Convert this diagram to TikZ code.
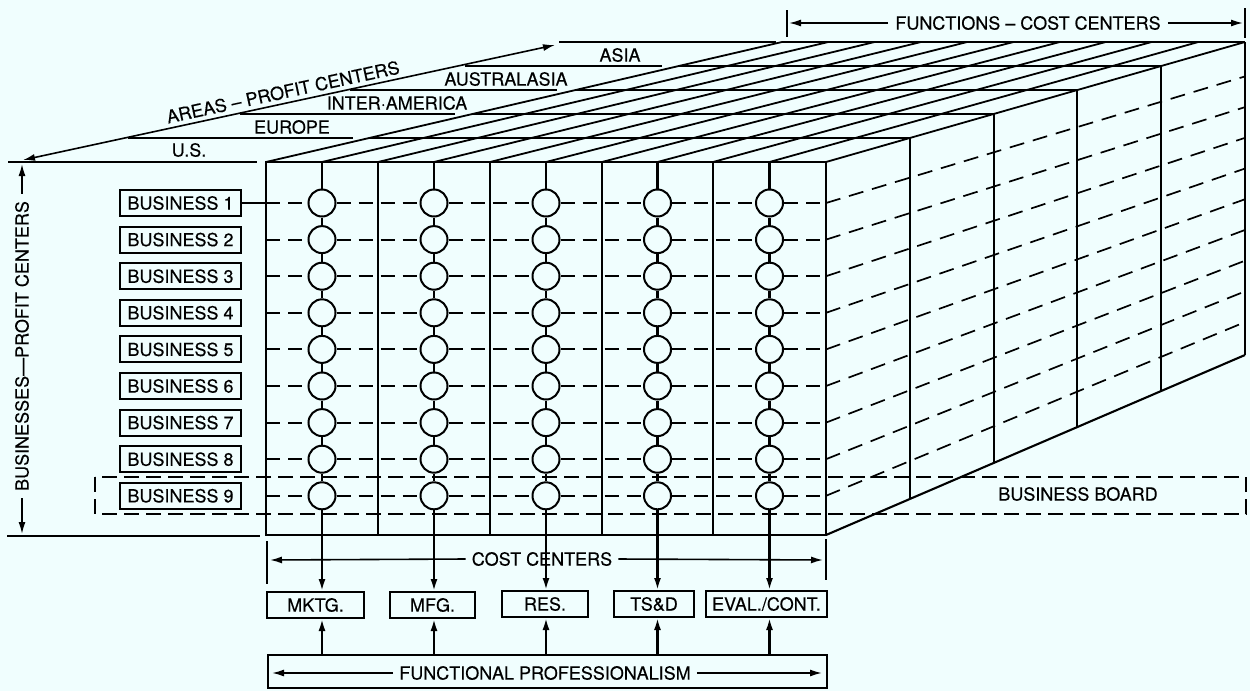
\documentclass[tikz,border=0pt]{standalone}
\usepackage{fontspec}
\setmainfont{TeX Gyre Heros}[FakeBold=0.35]
\usetikzlibrary{arrows.meta,calc}
\definecolor{bg}{RGB}{240,254,254}
\begin{document}
\begin{tikzpicture}[x=1pt,y=-1pt,
  every node/.style={font=\fontsize{18}{21}\selectfont, inner sep=0pt},
  ln/.style={line width=2.1pt},
  topln/.style={line width=1.8pt},
  dim/.style={line width=1.6pt},
  tip/.style={-{Latex[length=12pt,width=7pt]}},
  dimlabel/.style={inner xsep=7pt},
  rowdash/.style={line width=1.9pt, dash pattern=on 14pt off 8pt},
  sidedash/.style={line width=1.7pt, dash pattern=on 15pt off 9pt},
  bbdash/.style={line width=1.9pt, dash pattern=on 15pt off 7pt},
  bizbox/.style={draw, line width=2pt, minimum width=121pt, minimum height=26pt},
  fnbox/.style={draw, line width=2pt, minimum height=26pt},
  cell/.style={circle, draw, line width=2pt, minimum size=27pt, fill=bg}
]
\fill[bg] (0,0) rectangle (1250,691);
\useasboundingbox (0,0) rectangle (1250,691);

% ---------- top surface of the block ----------
\foreach \k in {1,...,5} {
  \pgfmathsetmacro\lx{266+103.2*\k}
  \pgfmathsetmacro\rx{826+83.8*\k}
  \pgfmathsetmacro\ty{162-24*\k}
  \pgfmathsetmacro\by{535-36*\k}
  \draw[topln] (\lx,\ty) -- (\rx,\ty);
  \draw[ln] (\rx,\ty) -- (\rx,\by);
}
\foreach \xf in {266,322,378,434,490,546,602,657.5,713,769.5,826} {
  \pgfmathsetmacro\xb{782+(\xf-266)*0.8268}
  \draw[topln] (\xf,162) -- (\xb,42);
}
\draw[ln] (826,535) -- (1245,355);

% ---------- area labels and leaders ----------
\draw[topln] (8,162) -- (257,162);
\draw[topln] (128,138) -- (353,138);
\draw[topln] (240,114) -- (455,114);
\draw[topln] (350,90) -- (557,90);
\draw[topln] (465,66) -- (662,66);
\draw[topln] (559,42) -- (776,42);
\node (us) at (189,150) {U.S.};
\node (eu) at (292,127) {EUROPE};
\node (ia) at (397,103) {INTER·AMERICA};
\node (au) at (506,79) {AUSTRALASIA};
\node (as) at (620,55) {ASIA};

\coordinate (al) at (23,160);
\coordinate (ar) at (555,45);
\draw[dim,{Latex[length=12pt,width=7pt]}-{Latex[length=12pt,width=7pt]}] (al) -- (ar);
\node[rotate=12.2] (apc) at (283,92) {AREAS -- PROFIT CENTERS};

% ---------- functions dimension ----------
\draw[dim] (787,10) -- (787,37);
\draw[dim] (1245,8) -- (1245,38);
\node[dimlabel] (fc) at (1028,23) {FUNCTIONS -- COST CENTERS};
\coordinate (fcl) at (789,23);
\coordinate (fcr) at (1243,23);
\draw[dim,tip] (fc.west) -- (fcl);
\draw[dim,tip] (fc.east) -- (fcr);

% ---------- businesses dimension ----------
\draw[ln] (7,536) -- (260,536);
\node[dimlabel,rotate=90] (bpc) at (22,346) {BUSINESSES—PROFIT CENTERS};
\coordinate (bpt) at (22,164);
\coordinate (bpb) at (22,534);
\draw[dim,tip] (bpc.east) -- (bpt);
\draw[dim,tip] (bpc.west) -- (bpb);

% ---------- front face ----------
\draw[ln] (266,162) rectangle (826,535);
\foreach \x in {378,490,602,713} { \draw[ln] (\x,162) -- (\x,535); }

% circles
\foreach \cx [count=\j] in {322,434,546,657.5,769.5} {
  \coordinate (ct\j) at (\cx,162);
  \foreach \i in {1,...,9} {
    \pgfmathsetmacro\yy{203+36.6*(\i-1)}
    \node[cell] (c\j-\i) at (\cx,\yy) {};
  }
}
\foreach \j in {1,...,5} {
  \draw[ln] (ct\j) -- (c\j-1.north);
  \foreach \i [evaluate=\i as \k using int(\i+1)] in {1,...,8} {
    \draw[ln] (c\j-\i.south) -- (c\j-\k.north);
  }
}

% rows
\foreach \i in {1,...,9} {
  \pgfmathsetmacro\yy{203+36.6*(\i-1)}
  \pgfmathsetmacro\yb{42+(\yy-162)*0.8391}
  \coordinate (rs\i) at (266,\yy);
  \coordinate (re\i) at (826,\yy);
  \coordinate (rb\i) at (1245,\yb);
  \node[bizbox] (b\i) at (180.5,\yy) {BUSINESS \i};
  \draw[rowdash] (rs\i) -- (c1-\i.west);
  \foreach \j [evaluate=\j as \k using int(\j+1)] in {1,...,4} {
    \draw[rowdash] (c\j-\i.east) -- (c\k-\i.west);
  }
  \draw[rowdash] (c5-\i.east) -- (re\i);
  \draw[sidedash] (re\i) -- (rb\i);
}
\draw[ln] (b1.east) -- (rs1);

% business board
\draw[bbdash] (95,477) rectangle (1246,514);
\node (bb) at (1078,494) {BUSINESS BOARD};

% ---------- cost centers ----------
\draw[dim] (267,541) -- (267,584);
\draw[dim] (826,539) -- (826,580);
\node[inner xsep=6pt] (cc) at (542,559) {COST CENTERS};
\coordinate (ccl) at (270,560);
\coordinate (ccr) at (823,560);
\draw[dim,tip] (cc.west) -- (ccl);
\draw[dim,tip] (cc.east) -- (ccr);

% function boxes
\node[fnbox, minimum width=97pt] (fn1) at (315.5,605) {MKTG.};
\node[fnbox, minimum width=85pt] (fn2) at (432.5,605) {MFG.};
\node[fnbox, minimum width=86pt] (fn3) at (545,604) {RES.};
\node[fnbox, minimum width=80pt] (fn4) at (654,604) {TS\&D};
\node[fnbox, minimum width=121pt] (fn5) at (766.5,604) {EVAL./CONT.};

\node[draw, line width=2pt, minimum width=559pt, minimum height=33pt] (fp) at (547.5,671.5) {};
\node[inner xsep=6pt] (fpt) at (545,673) {FUNCTIONAL PROFESSIONALISM};
\coordinate (fpl) at (272,673);
\coordinate (fpr) at (822,673);
\draw[dim,tip] (fpt.west) -- (fpl);
\draw[dim,tip] (fpt.east) -- (fpr);

\foreach \j in {1,...,5} {
  \draw[ln,tip] (c\j-9.south) -- (c\j-9 |- fn\j.north);
  \draw[ln,tip] (c\j-9 |- fp.north) -- (c\j-9 |- fn\j.south);
}
\end{tikzpicture}
\end{document}
